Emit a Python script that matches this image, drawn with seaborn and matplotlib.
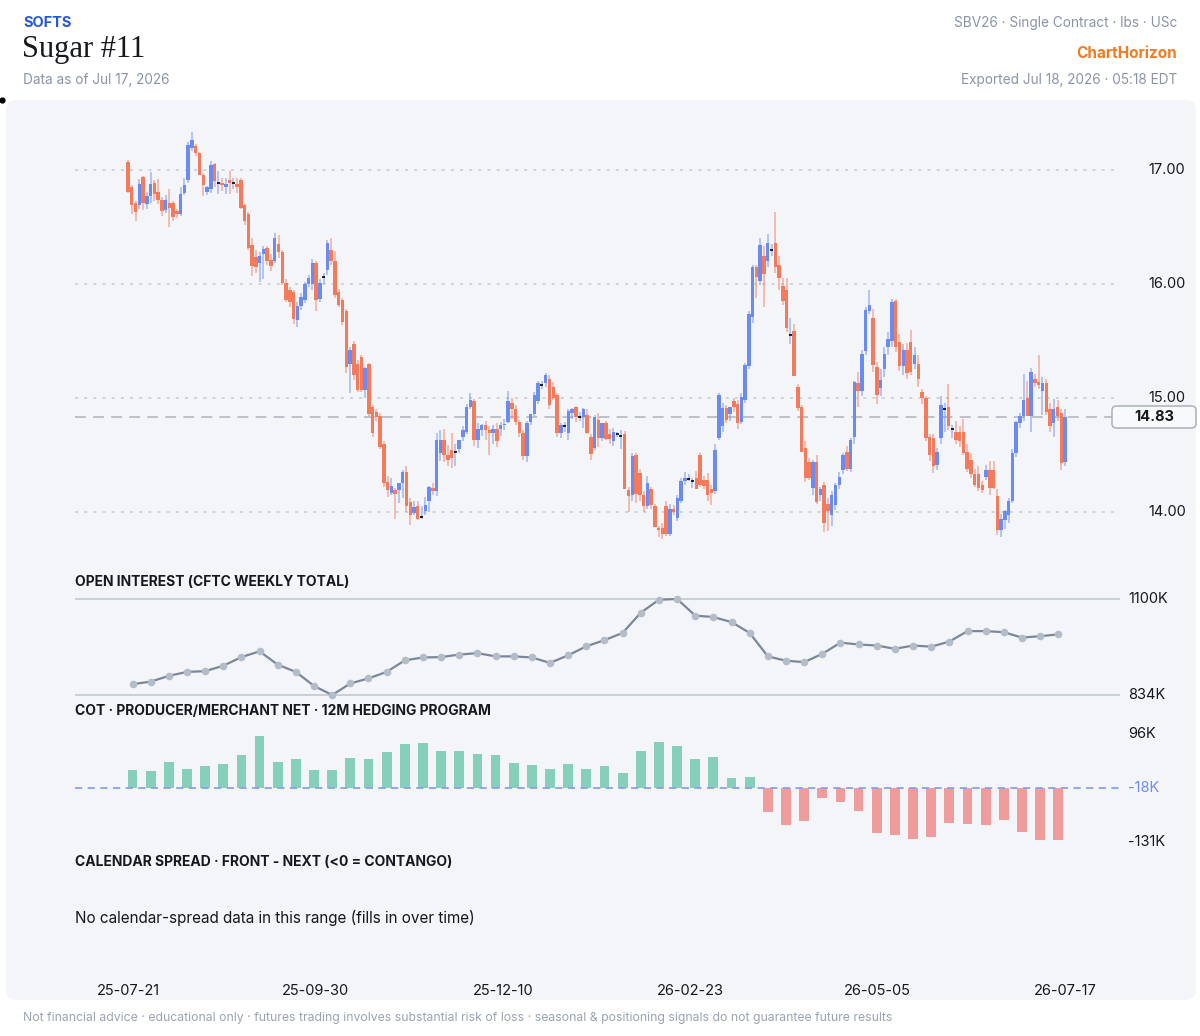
import numpy as np
import pandas as pd
import matplotlib
matplotlib.use('Agg')
import matplotlib.pyplot as plt
import matplotlib.transforms as mtransforms
from matplotlib.patches import FancyBboxPatch
from matplotlib.lines import Line2D
import seaborn as sns

# daily OHLC, Sugar #11 (SBV26)
opens = [
    17.07, 16.85, 16.71, 16.69, 16.94, 16.70, 16.77, 16.89, 16.81, 16.74,
    16.65, 16.71, 16.71, 16.64, 16.61, 16.80, 16.91, 17.19, 17.21, 17.15,
    16.96, 16.81, 16.83, 17.05, 16.89, 16.89, 16.85, 16.91, 16.89, 16.88,
    16.91, 16.69, 16.61, 16.34, 16.24, 16.18, 16.26, 16.32, 16.21, 16.20,
    16.35, 16.28, 16.01, 15.95, 15.93, 15.68, 15.81, 15.86, 16.00, 16.00,
    16.18, 15.87, 16.06, 16.12, 16.30, 16.20, 15.93, 15.86, 15.76, 15.30,
    15.47, 15.30, 15.36, 15.07, 15.30, 14.92, 14.88, 14.84, 14.60, 14.26,
    14.17, 14.19, 14.19, 14.25, 14.35, 14.09, 13.99, 14.05, 13.96, 14.01,
    14.10, 14.21, 14.18, 14.52, 14.63, 14.50, 14.54, 14.53, 14.55, 14.66,
    14.70, 14.92, 14.97, 14.63, 14.72, 14.76, 14.72, 14.69, 14.73, 14.73,
    14.76, 14.79, 14.96, 14.90, 14.79, 14.69, 14.49, 14.79, 14.86, 14.97,
    15.11, 15.13, 15.17, 15.10, 15.03, 14.69, 14.75, 14.69, 14.87, 14.92,
    14.83, 14.83, 14.85, 14.66, 14.56, 14.81, 14.65, 14.78, 14.68, 14.62,
    14.68, 14.67, 14.68, 14.19, 14.15, 14.50, 14.34, 14.15, 14.05, 14.20,
    14.05, 13.86, 13.86, 14.05, 13.81, 14.03, 13.95, 14.10, 14.27, 14.29,
    14.27, 14.30, 14.50, 14.28, 14.28, 14.20, 14.18, 14.65, 14.75, 14.91,
    14.86, 14.97, 14.95, 14.79, 14.98, 15.28, 15.71, 16.15, 16.03, 16.25,
    16.20, 16.30, 16.36, 16.17, 15.98, 15.95, 15.55, 15.59, 15.10, 14.92,
    14.56, 14.44, 14.21, 14.44, 14.15, 14.24, 14.07, 13.97, 14.06, 14.24,
    14.37, 14.53, 14.38, 14.66, 15.13, 15.06, 15.41, 15.76, 15.70, 15.27,
    15.09, 15.25, 15.45, 15.50, 15.85, 15.49, 15.28, 15.42, 15.49, 15.30,
    15.30, 15.05, 15.00, 14.66, 14.65, 14.41, 14.65, 14.90, 14.92, 14.73,
    14.70, 14.70, 14.70, 14.53, 14.46, 14.33, 14.33, 14.24, 14.31, 14.37,
    14.37, 14.14, 13.84, 13.93, 13.97, 14.10, 14.52, 14.78, 14.84, 15.00,
    14.84, 15.17, 15.14, 15.06, 15.13, 14.90, 14.78, 14.92, 14.87, 14.44,
]
highs = [
    17.09, 16.87, 16.73, 16.92, 16.95, 16.81, 16.98, 16.91, 16.92, 16.76,
    16.78, 16.83, 16.73, 16.66, 16.85, 16.93, 17.25, 17.33, 17.23, 17.16,
    16.97, 16.86, 17.08, 17.06, 16.99, 16.93, 16.93, 16.99, 16.93, 16.93,
    16.93, 16.70, 16.63, 16.40, 16.30, 16.28, 16.33, 16.33, 16.26, 16.45,
    16.43, 16.30, 16.04, 15.97, 15.95, 15.84, 15.92, 16.02, 16.08, 16.22,
    16.20, 16.04, 16.10, 16.39, 16.40, 16.29, 15.96, 15.88, 15.78, 15.45,
    15.50, 15.33, 15.38, 15.27, 15.31, 14.94, 14.90, 14.87, 14.62, 14.32,
    14.30, 14.21, 14.25, 14.37, 14.40, 14.12, 14.10, 14.10, 14.05, 14.13,
    14.23, 14.25, 14.69, 14.72, 14.73, 14.59, 14.69, 14.60, 14.63, 14.75,
    14.95, 15.04, 14.99, 14.78, 14.77, 14.80, 14.75, 14.76, 14.78, 14.79,
    14.82, 15.06, 15.00, 14.94, 14.81, 14.72, 14.80, 14.86, 15.05, 15.15,
    15.15, 15.22, 15.20, 15.14, 15.04, 14.78, 14.79, 14.90, 14.91, 14.93,
    14.88, 14.91, 14.90, 14.68, 14.85, 14.87, 14.78, 14.80, 14.73, 14.74,
    14.70, 14.72, 14.71, 14.22, 14.52, 14.52, 14.38, 14.18, 14.32, 14.22,
    14.07, 13.88, 13.90, 14.10, 14.07, 14.06, 14.15, 14.30, 14.35, 14.33,
    14.30, 14.36, 14.52, 14.32, 14.34, 14.24, 14.60, 15.04, 14.96, 14.94,
    14.92, 15.00, 14.98, 15.04, 15.31, 15.76, 16.17, 16.17, 16.40, 16.33,
    16.44, 16.35, 16.63, 16.25, 16.05, 16.05, 15.70, 15.65, 15.12, 14.94,
    14.62, 14.47, 14.46, 14.50, 14.22, 14.26, 14.12, 14.18, 14.25, 14.35,
    14.52, 14.58, 14.65, 15.15, 15.23, 15.42, 15.80, 15.95, 15.78, 15.32,
    15.25, 15.45, 15.58, 15.87, 15.87, 15.56, 15.47, 15.48, 15.60, 15.45,
    15.38, 15.08, 15.02, 14.68, 14.68, 14.56, 15.02, 14.96, 15.12, 14.76,
    14.80, 14.75, 14.82, 14.60, 14.52, 14.38, 14.40, 14.27, 14.41, 14.45,
    14.45, 14.20, 13.98, 14.02, 14.12, 14.55, 14.80, 14.87, 15.21, 15.15,
    15.26, 15.21, 15.38, 15.18, 15.17, 14.96, 14.99, 14.98, 14.90, 14.90,
]
lows = [
    16.80, 16.61, 16.55, 16.66, 16.65, 16.66, 16.71, 16.73, 16.70, 16.60,
    16.62, 16.50, 16.55, 16.58, 16.60, 16.78, 16.89, 17.17, 17.12, 16.96,
    16.77, 16.78, 16.80, 16.85, 16.79, 16.82, 16.79, 16.79, 16.83, 16.80,
    16.66, 16.52, 16.30, 16.07, 16.10, 16.02, 16.04, 16.17, 16.11, 16.18,
    16.23, 15.99, 15.84, 15.80, 15.65, 15.62, 15.77, 15.83, 15.97, 15.95,
    15.76, 15.84, 16.00, 16.08, 16.17, 15.88, 15.80, 15.64, 15.22, 15.04,
    15.16, 15.05, 15.05, 15.00, 14.84, 14.66, 14.80, 14.55, 14.22, 14.13,
    14.15, 13.94, 14.08, 14.12, 14.00, 13.89, 13.97, 13.93, 13.94, 13.97,
    14.00, 14.15, 14.14, 14.45, 14.44, 14.40, 14.39, 14.40, 14.52, 14.62,
    14.68, 14.90, 14.58, 14.56, 14.67, 14.63, 14.50, 14.60, 14.57, 14.67,
    14.72, 14.78, 14.82, 14.76, 14.66, 14.46, 14.44, 14.76, 14.84, 14.95,
    15.08, 15.10, 14.90, 14.98, 14.66, 14.65, 14.70, 14.63, 14.82, 14.79,
    14.80, 14.74, 14.68, 14.46, 14.54, 14.57, 14.62, 14.63, 14.60, 14.58,
    14.66, 14.55, 14.20, 14.00, 14.10, 14.08, 14.10, 14.00, 14.03, 14.03,
    13.87, 13.78, 13.76, 13.79, 13.79, 13.97, 13.92, 14.08, 14.24, 14.27,
    14.21, 14.20, 14.22, 14.20, 14.10, 14.06, 14.16, 14.63, 14.70, 14.78,
    14.80, 14.88, 14.73, 14.77, 14.96, 15.25, 15.66, 15.88, 15.99, 15.80,
    16.15, 16.25, 16.10, 15.95, 15.82, 15.58, 15.47, 15.19, 14.89, 14.53,
    14.26, 14.28, 14.15, 14.07, 14.10, 13.82, 13.83, 13.88, 14.02, 14.20,
    14.33, 14.36, 14.35, 14.60, 14.92, 15.02, 15.38, 15.74, 15.23, 14.95,
    15.02, 15.18, 15.38, 15.45, 15.40, 15.24, 15.20, 15.17, 15.20, 15.25,
    15.10, 14.95, 14.62, 14.45, 14.34, 14.37, 14.60, 14.70, 14.72, 14.65,
    14.60, 14.57, 14.50, 14.35, 14.30, 14.22, 14.18, 14.17, 14.28, 14.15,
    14.20, 13.80, 13.78, 13.85, 13.90, 14.08, 14.48, 14.74, 14.80, 14.84,
    14.70, 15.10, 15.08, 14.85, 14.85, 14.70, 14.66, 14.80, 14.37, 14.40,
]
closes = [
    16.81, 16.69, 16.63, 16.88, 16.71, 16.77, 16.88, 16.79, 16.74, 16.64,
    16.74, 16.67, 16.59, 16.61, 16.79, 16.87, 17.22, 17.26, 17.15, 16.96,
    16.87, 16.85, 17.04, 16.90, 16.89, 16.87, 16.88, 16.89, 16.89, 16.85,
    16.67, 16.55, 16.32, 16.16, 16.15, 16.25, 16.31, 16.20, 16.16, 16.40,
    16.28, 16.01, 15.86, 15.84, 15.69, 15.81, 15.89, 16.00, 16.05, 16.18,
    15.86, 16.01, 16.06, 16.36, 16.20, 15.90, 15.82, 15.67, 15.27, 15.42,
    15.20, 15.07, 15.07, 15.26, 14.86, 14.69, 14.83, 14.57, 14.25, 14.19,
    14.23, 14.16, 14.25, 14.35, 14.05, 13.97, 14.04, 13.94, 13.96, 14.06,
    14.22, 14.18, 14.63, 14.63, 14.50, 14.46, 14.47, 14.53, 14.63, 14.72,
    14.92, 14.98, 14.63, 14.73, 14.76, 14.72, 14.69, 14.73, 14.62, 14.76,
    14.77, 14.97, 14.90, 14.79, 14.69, 14.49, 14.78, 14.86, 15.03, 15.13,
    15.11, 15.20, 14.94, 15.00, 14.69, 14.76, 14.75, 14.89, 14.90, 14.83,
    14.83, 14.90, 14.69, 14.51, 14.83, 14.65, 14.78, 14.64, 14.64, 14.70,
    14.68, 14.67, 14.20, 14.14, 14.49, 14.16, 14.15, 14.05, 14.25, 14.06,
    13.87, 13.84, 13.81, 13.81, 14.03, 14.00, 14.12, 14.27, 14.30, 14.29,
    14.27, 14.20, 14.24, 14.23, 14.15, 14.17, 14.54, 15.03, 14.91, 14.81,
    14.92, 14.92, 14.78, 15.01, 15.29, 15.74, 16.15, 16.06, 16.34, 16.09,
    16.36, 16.30, 16.15, 16.05, 15.85, 15.61, 15.55, 15.19, 14.91, 14.53,
    14.30, 14.30, 14.44, 14.09, 14.20, 13.90, 14.01, 14.15, 14.24, 14.31,
    14.50, 14.38, 14.63, 15.14, 15.06, 15.39, 15.77, 15.82, 15.29, 15.03,
    15.16, 15.39, 15.52, 15.84, 15.45, 15.28, 15.42, 15.22, 15.23, 15.38,
    15.17, 15.00, 14.65, 14.50, 14.40, 14.53, 14.94, 14.90, 14.75, 14.73,
    14.63, 14.62, 14.52, 14.38, 14.33, 14.24, 14.21, 14.19, 14.37, 14.21,
    14.21, 13.84, 13.94, 14.01, 14.10, 14.52, 14.79, 14.84, 14.98, 14.84,
    15.23, 15.13, 15.11, 15.13, 14.88, 14.75, 14.90, 14.84, 14.43, 14.83,
]

# weekly CFTC open interest, thousands of contracts
open_interest_k = [
    864, 871, 887, 898, 900, 915, 939, 955, 918, 898,
    859, 834, 866, 880, 898, 930, 938, 939, 946, 950,
    941, 941, 938, 923, 944, 969, 986, 1006, 1062, 1098,
    1100, 1054, 1050, 1036, 1006, 941, 929, 925, 948, 979,
    974, 971, 962, 971, 968, 982, 1011, 1011, 1008, 993,
    997, 1002,
]
# producer/merchant net position, thousands of contracts
cot_net_k = [
    21, 18, 37, 23, 28, 32, 51, 91, 38, 44,
    20, 20, 46, 43, 58, 75, 77, 60, 60, 53,
    52, 34, 30, 22, 32, 23, 28, 15, 60, 79,
    70, 44, 48, 3, 6, -68, -96, -87, -38, -46,
    -65, -113, -117, -125, -121, -92, -94, -95, -85, -109,
    -126, -126,
]
cot_mean_k = -18
cot_axis_k = [96, -18, -131]
oi_axis_k = [1100, 834]
price_ticks = [14.0, 15.0, 16.0, 17.0]
last_price = 14.83
date_labels = ['25-07-21', '25-09-30', '25-12-10', '26-02-23', '26-05-05', '26-07-17']

sns.set_theme(style='white')
plt.rcParams['font.family'] = ['Inter', 'DejaVu Sans']

W, H = 1200, 1036
fig = plt.figure(figsize=(W / 100, H / 100), dpi=100)
fig.patch.set_facecolor('white')


def fx(px):
    return px / W


def fy(py):
    return 1 - py / H


def box(l, t, r, b):
    return [fx(l), fy(b), (r - l) / W, (b - t) / H]


UP = '#6a8bf2'
DOWN = '#f47a5c'
GREEN = '#86cfb8'
RED = '#ee9c9c'
GRAY_TXT = '#8a94a6'
DARK = '#15181d'

# background card (kept below the axes)
fig.patches.append(FancyBboxPatch(
    (fx(6), fy(1000)), fx(1196) - fx(6), fy(100) - fy(1000),
    boxstyle='round,pad=0,rounding_size=0.009', transform=fig.transFigure,
    facecolor='#f4f5f9', edgecolor='none', zorder=-10))
fig.add_artist(Line2D([fx(2)], [fy(100)], marker='o', markersize=3.5,
                      color='black', transform=fig.transFigure))

# header
fig.text(fx(23), fy(23), 'SOFTS', fontsize=10.5, fontweight='bold', color='#2456d6', va='center')
fig.text(fx(22), fy(50), 'Sugar #11', fontsize=22, family=['Liberation Serif', 'DejaVu Serif'],
         color=DARK, va='center')
fig.text(fx(23), fy(80), 'Data as of Jul 17, 2026', fontsize=9.8, color=GRAY_TXT, va='center')
fig.text(fx(1177), fy(23), 'SBV26 · Single Contract · lbs · USc', fontsize=9.8, color=GRAY_TXT,
         va='center', ha='right')
fig.text(fx(1177), fy(54), 'ChartHorizon', fontsize=11, fontweight='bold', color='#f47a20',
         va='center', ha='right')
fig.text(fx(1177), fy(80), 'Exported Jul 18, 2026 · 05:18 EDT', fontsize=9.8, color=GRAY_TXT,
         va='center', ha='right')

# ---- price panel (candles)
n = len(closes)
df = pd.DataFrame({'i': np.arange(n), 'o': opens, 'h': highs, 'l': lows, 'c': closes})
up = df.c > df.o
down = df.c < df.o
flat = df.c == df.o

x_lo, x_hi = -14.08, 263.6
ax = fig.add_axes(box(75, 112, 1120, 548))
ax.set_xlim(x_lo, x_hi)
ax.set_ylim(13.684, 17.509)
ax.set_axis_off()

for t in price_ticks:
    ax.axhline(t, xmax=(1115 - 75) / 1045, color='#c6cad1', lw=1.1, ls=(0, (2, 4)), zorder=1)
ax.axhline(last_price, xmax=(1112 - 75) / 1045, color='#b8bdc5', lw=1.3, ls=(0, (6, 4)), zorder=1)

wick_colors = np.where(df.c >= df.o, UP, DOWN)
ax.vlines(df.i, df.l, df.h, colors=wick_colors, lw=1.1, alpha=0.6, zorder=2)
ax.bar(df.i[up], (df.c - df.o)[up], bottom=df.o[up], width=0.92, color=UP,
       linewidth=0, zorder=3)
ax.bar(df.i[down], (df.o - df.c)[down], bottom=df.c[down], width=0.92, color=DOWN,
       linewidth=0, zorder=3)
ax.hlines(df.c[flat], df.i[flat] - 0.4, df.i[flat] + 0.4, colors='black', lw=1.2, zorder=4)

ytrans = mtransforms.blended_transform_factory(fig.transFigure, ax.transData)
for t in price_ticks:
    ax.text(fx(1148), t, f'{t:.2f}', transform=ytrans, va='center', ha='left',
            fontsize=10.5, color=DARK)
fig.patches.append(FancyBboxPatch(
    (fx(1112), fy(428)), fx(1196) - fx(1112), fy(406) - fy(428),
    boxstyle='round,pad=0,rounding_size=0.004', transform=fig.transFigure,
    facecolor='#f8f9fb', edgecolor='#a9b0ba', lw=1.1, zorder=5))
fig.text(fx(1154), fy(417), f'{last_price:.2f}', fontsize=10.5, fontweight='bold',
         color=DARK, ha='center', va='center', zorder=6)

xtrans = mtransforms.blended_transform_factory(ax.transData, fig.transFigure)
for p, lab in zip(np.linspace(0, n - 1, len(date_labels)), date_labels):
    ax.text(p, fy(991), lab, transform=xtrans, ha='center', va='center',
            fontsize=10.5, color=DARK)

week_x = np.linspace(1.2, 247.2, len(open_interest_k))

# ---- open interest
fig.text(fx(75), fy(582), 'OPEN INTEREST (CFTC WEEKLY TOTAL)', fontsize=10,
         fontweight='bold', color=DARK, va='center')
ax2 = fig.add_axes(box(75, 592, 1120, 702))
ax2.set_xlim(x_lo, x_hi)
ax2.set_ylim(814.6, 1119.4)
ax2.set_axis_off()
for v in oi_axis_k:
    ax2.axhline(v, color='#c6cdd8', lw=1.3, zorder=1)
    ax2.text(fx(1128), v, f'{v}K', transform=mtransforms.blended_transform_factory(
        fig.transFigure, ax2.transData), va='center', ha='left', fontsize=10.5, color=DARK)
sns.lineplot(x=week_x, y=open_interest_k, ax=ax2, color='#7b8799', lw=1.6,
             marker='o', markersize=5.5, markerfacecolor='#b3bcc9',
             markeredgewidth=0, zorder=3)

# ---- COT producer/merchant
fig.text(fx(75), fy(711), 'COT · PRODUCER/MERCHANT NET · 12M HEDGING PROGRAM', fontsize=10,
         fontweight='bold', color=DARK, va='center')
ax3 = fig.add_axes(box(75, 728, 1120, 848))
ax3.set_xlim(x_lo, x_hi)
ax3.set_ylim(-143.6, 108.6)
ax3.set_axis_off()
cot = np.array(cot_net_k, dtype=float)
ax3.bar(week_x, cot - cot_mean_k, bottom=cot_mean_k, width=2.6,
        color=[GREEN if v > cot_mean_k else RED for v in cot], linewidth=0, zorder=2)
ax3.axhline(cot_mean_k, color='#89a1ee', lw=1.3, ls=(0, (4, 3)), zorder=3)
t3 = mtransforms.blended_transform_factory(fig.transFigure, ax3.transData)
for v in cot_axis_k:
    ax3.text(fx(1128), v, f'{v}K', transform=t3, va='center', ha='left', fontsize=10.5,
             color='#6d8cf0' if v == cot_mean_k else DARK)

# ---- calendar spread (empty)
fig.text(fx(75), fy(862), 'CALENDAR SPREAD · FRONT - NEXT (<0 = CONTANGO)', fontsize=10,
         fontweight='bold', color=DARK, va='center')
fig.text(fx(75), fy(918), 'No calendar-spread data in this range (fills in over time)',
         fontsize=11, color=DARK, va='center')

# footer
fig.text(fx(23), fy(1018), 'Not financial advice · educational only · futures trading involves '
         'substantial risk of loss · seasonal & positioning signals do not guarantee future results',
         fontsize=8.8, color='#9aa3b2', va='center')

fig.savefig('out.png', dpi=100)
